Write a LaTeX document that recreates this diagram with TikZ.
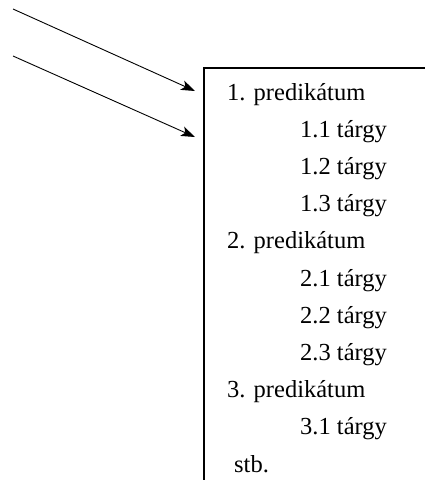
\documentclass[tikz,border=0pt]{standalone}
\usepackage{fontspec}
\setmainfont{Liberation Serif}
\usetikzlibrary{arrows.meta}
\begin{document}
\begin{tikzpicture}[x=1pt,y=-1pt,
  entry/.style={anchor=base west,inner sep=0pt,font=\fontsize{24.5}{28}\selectfont},
  pointer/.style={line width=0.9pt,-{Stealth[length=14pt,width=10pt,inset=3.5pt]}},
  frame/.style={line width=1.2pt}]
  \useasboundingbox (0,0) rectangle (425,483);
  % open frame: top edge and left edge
  \coordinate (tr) at (425,68);
  \coordinate (tl) at (204,68);
  \coordinate (bl) at (204,480);
  \draw[frame] (tr) -- (tl) -- (bl);
  % incoming arrows
  \coordinate (s1) at (13,9);
  \coordinate (e1) at (195,91);
  \coordinate (s2) at (13,56);
  \coordinate (e2) at (195,137);
  \draw[pointer] (s1) -- (e1);
  \draw[pointer] (s2) -- (e2);
  % list entries
  \def\lh{37.2}
  \node[entry] (p1)  at (227,100)          {1. predikátum};
  \node[entry] (t11) at (300,100+1*\lh)    {1.1 tárgy};
  \node[entry] (t12) at (300,100+2*\lh)    {1.2 tárgy};
  \node[entry] (t13) at (300,100+3*\lh)    {1.3 tárgy};
  \node[entry] (p2)  at (227,100+4*\lh)    {2. predikátum};
  \node[entry] (t21) at (300,100+5*\lh)    {2.1 tárgy};
  \node[entry] (t22) at (300,100+6*\lh)    {2.2 tárgy};
  \node[entry] (t23) at (300,100+7*\lh)    {2.3 tárgy};
  \node[entry] (p3)  at (227,100+8*\lh)    {3. predikátum};
  \node[entry] (t31) at (300,100+9*\lh)    {3.1 tárgy};
  \node[entry] (etc) at (234,100+10*\lh)   {stb.};
\end{tikzpicture}
\end{document}
